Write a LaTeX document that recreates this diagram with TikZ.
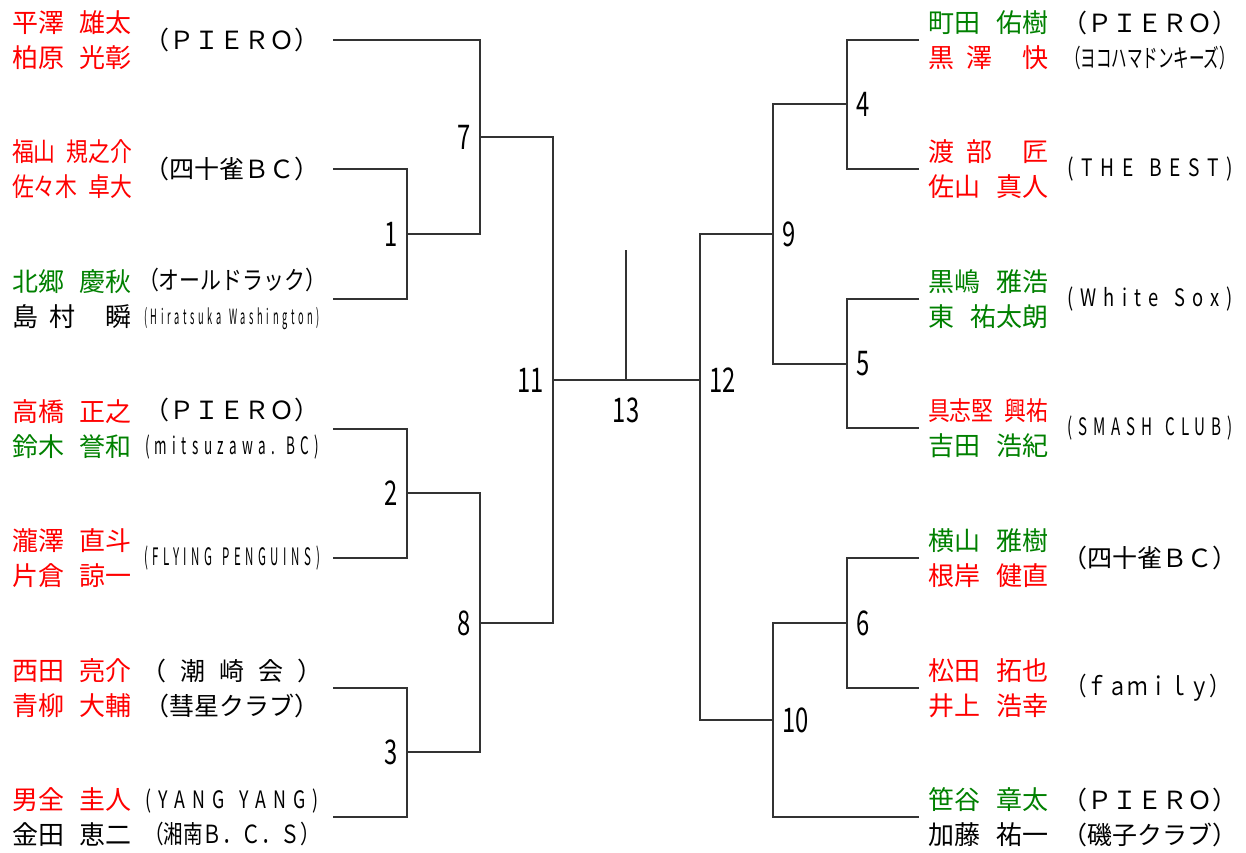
\documentclass[tikz,border=0pt]{standalone}
\usepackage{fontspec}
\usepackage{graphicx}
\setmainfont{Noto Sans CJK JP}
\newfontfamily\spacedfont[LetterSpace=40]{Noto Sans CJK JP}
\definecolor{win}{RGB}{255,0,0}
\definecolor{grn}{RGB}{0,128,0}
\newcommand{\pl}[3]{\textcolor{#1}{\makebox[60pt]{#2\hfill #3}}}
\newcommand{\plc}[3]{\textcolor{#1}{\makebox[60pt]{\scalebox{0.84}[1]{#2}\hfill\scalebox{0.84}[1]{#3}}}}
\newcommand{\cl}[3]{\resizebox{#1}{\height}{\fontsize{#2}{#2}\spacedfont #3}}
\newcommand{\narrow}[1]{\scalebox{0.7}[1]{#1}}
\newcommand{\gap}{\ \hspace{0.2em}}

\begin{document}
\begin{tikzpicture}[x=0.5pt, y=-0.5pt, every node/.style={inner sep=0pt, align=center, font=\fontsize{12.5}{17.5}\selectfont},
  player/.style={font=\fontsize{13}{17.5}\selectfont},
  num/.style={inner sep=4.5pt, font=\fontsize{17}{20}\selectfont},
  line/.style={line width=0.6pt, black!80}]

\useasboundingbox (0,0) rectangle (1246,852);

  % Players
  \node[player] (p1) at (72,40) {\pl{win}{平澤}{雄太}\\\pl{win}{柏原}{光彰}};
  \node[player] (p2) at (72,169) {\plc{win}{福山}{規之介}\\\plc{win}{佐々木}{卓大}};
  \node[player] (p3) at (72,299) {\pl{grn}{北郷}{慶秋}\\\makebox[60pt]{島\hspace{6pt}村\hfill 瞬}};
  \node[player] (p4) at (72,429) {\pl{win}{高橋}{正之}\\\pl{grn}{鈴木}{誉和}};
  \node[player] (p5) at (72,558) {\pl{win}{瀧澤}{直斗}\\\pl{win}{片倉}{諒一}};
  \node[player] (p6) at (72,688) {\pl{win}{西田}{亮介}\\\pl{win}{青柳}{大輔}};
  \node[player] (p7) at (72,817) {\pl{win}{男全}{圭人}\\\pl{black}{金田}{恵二}};
  \node[player] (q1) at (988,40) {\pl{grn}{町田}{佑樹}\\\textcolor{win}{\makebox[60pt]{黒\hspace{6pt}澤\hfill 快}}};
  \node[player] (q2) at (988,169) {\textcolor{win}{\makebox[60pt]{渡\hspace{6pt}部\hfill 匠}}\\\pl{win}{佐山}{真人}};
  \node[player] (q3) at (988,299) {\pl{grn}{黒嶋}{雅浩}\\\pl{grn}{東}{祐太朗}};
  \node[player] (q4) at (988,428) {\plc{win}{具志堅}{興祐}\\\pl{grn}{吉田}{浩紀}};
  \node[player] (q5) at (988,558) {\pl{grn}{横山}{雅樹}\\\pl{win}{根岸}{健直}};
  \node[player] (q6) at (988,688) {\pl{win}{松田}{拓也}\\\pl{win}{井上}{浩幸}};
  \node[player] (q7) at (988,817) {\pl{grn}{笹谷}{章太}\\\pl{black}{加藤}{祐一}};

  % Clubs
  \node (c1) at (232,40) {（ＰＩＥＲＯ）};
  \node (c2) at (232,169) {（四十雀ＢＣ）};
  \node (c3) at (232,299) {\resizebox{94pt}{\height}{（オールドラック）}\\\cl{88pt}{10.5pt}{(Hiratsuka\gap Washington)}};
  \node (c4) at (232,429) {（ＰＩＥＲＯ）\\\cl{87pt}{12pt}{(mitsuzawa.\gap BC)}};
  \node (c5) at (232,558) {\cl{88pt}{12pt}{(FLYING\gap PENGUINS)}};
  \node (c6) at (232,688) {（\hspace{7pt}潮\hspace{7pt}崎\hspace{7pt}会\hspace{7pt}）\\（彗星クラブ）};
  \node (c7) at (232,817) {\cl{87pt}{12pt}{(YANG\gap YANG)}\\\resizebox{88pt}{\height}{（湘南Ｂ．Ｃ．Ｓ）}};
  \node (d1) at (1150,40) {（ＰＩＥＲＯ）\\\resizebox{85pt}{\height}{（ヨコハマドンキーズ）}};
  \node (d2) at (1150,169) {\cl{83pt}{12pt}{(THE\gap BEST)}};
  \node (d3) at (1150,299) {\cl{83pt}{12pt}{(White\gap Sox)}};
  \node (d4) at (1150,428) {\cl{83pt}{12pt}{(SMASH\gap CLUB)}};
  \node (d5) at (1150,558) {（四十雀ＢＣ）};
  \node (d6) at (1148,688) {\resizebox{82pt}{\height}{（ｆａｍｉｌｙ）}};
  \node (d7) at (1150,817) {（ＰＩＥＲＯ）\\（磯子クラブ）};

  % Bracket points
  \coordinate (a1) at (333,40);
  \coordinate (a2) at (333,169);
  \coordinate (a3) at (333,299);
  \coordinate (a4) at (333,429);
  \coordinate (a5) at (333,558);
  \coordinate (a6) at (333,688);
  \coordinate (a7) at (333,817);
  \coordinate (b1) at (919,40);
  \coordinate (b2) at (919,169);
  \coordinate (b3) at (919,299);
  \coordinate (b4) at (919,428);
  \coordinate (b5) at (919,558);
  \coordinate (b6) at (919,688);
  \coordinate (b7) at (919,817);
  \coordinate (m1) at (407,234);
  \coordinate (m2) at (407,493);
  \coordinate (m3) at (407,752);
  \coordinate (m7) at (480,137);
  \coordinate (m8) at (480,623);
  \coordinate (m11) at (553,380);
  \coordinate (m13) at (626,380);
  \coordinate (top) at (626,250);
  \coordinate (m12) at (700,380);
  \coordinate (m9) at (773,234);
  \coordinate (m10) at (773,720);
  \coordinate (m4) at (847,104);
  \coordinate (m5) at (847,364);
  \coordinate (m6) at (847,623);

  % Lines
  \draw[line] (a1) -| (m7) |- (m1);
  \draw[line] (a2) -| (m1) |- (a3);
  \draw[line] (a4) -| (m2) |- (a5);
  \draw[line] (a6) -| (m3) |- (a7);
  \draw[line] (m2) -| (m8) |- (m3);
  \draw[line] (m7) -| (m11) |- (m8);
  \draw[line] (m11) -- (m12);
  \draw[line] (m13) -- (top);
  \draw[line] (b1) -| (m4) |- (b2);
  \draw[line] (b3) -| (m5) |- (b4);
  \draw[line] (b5) -| (m6) |- (b6);
  \draw[line] (m4) -| (m9) |- (m5);
  \draw[line] (m6) -| (m10) |- (b7);
  \draw[line] (m9) -| (m12) |- (m10);

  % Match numbers
  \node[num, left] (n1) at (m1) {\narrow{1}};
  \node[num, left] (n2) at (m2) {\narrow{2}};
  \node[num, left] (n3) at (m3) {\narrow{3}};
  \node[num, left] (n7) at (m7) {\narrow{7}};
  \node[num, left] (n8) at (m8) {\narrow{8}};
  \node[num, left] (n11) at (m11) {\narrow{11}};
  \node[num] (n13) at (626,410) {\narrow{13}};
  \node[num, right] (n12) at (m12) {\narrow{12}};
  \node[num, right] (n9) at (m9) {\narrow{9}};
  \node[num, right] (n10) at (m10) {\narrow{10}};
  \node[num, right] (n4) at (m4) {\narrow{4}};
  \node[num, right] (n5) at (m5) {\narrow{5}};
  \node[num, right] (n6) at (m6) {\narrow{6}};

\end{tikzpicture}
\end{document}
